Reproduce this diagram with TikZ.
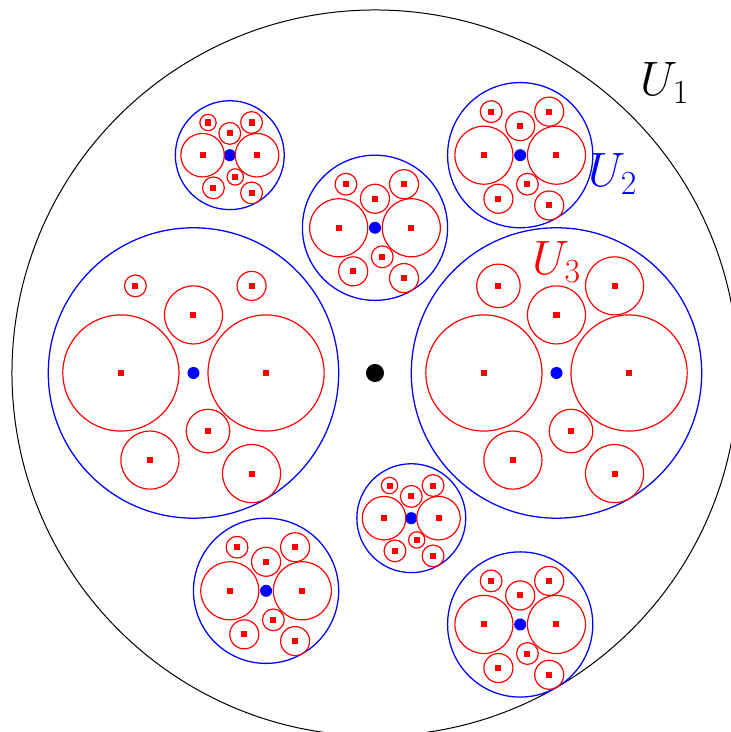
\documentclass[tikz,border=0pt]{standalone}
\usepackage{fix-cm}
\usepackage{amsmath,amssymb}
\usepackage{xcolor}
\usepackage{tikz}
\usetikzlibrary{calc,positioning}

\begin{document}
\begin{tikzpicture}[x=7cm,y=7cm,font=\fontsize{26.5}{30}\selectfont,
  outer/.style={draw=black,line width=0.55pt},
  cell/.style={draw=blue,line width=0.7pt},
  ball/.style={draw=red,line width=0.65pt},
  seed/.style={rectangle,fill=red,inner sep=0pt,minimum size=3.3pt},
  hub/.style={circle,fill=blue,inner sep=0pt,minimum size=6.6pt},
  tag/.style={inner sep=0pt}]
  \useasboundingbox (-1.033,-0.989) rectangle (0.978,1.0275);
  \draw[outer] (0,0) circle[radius=1];
  \node[circle,fill=black,inner sep=0pt,minimum size=9.9pt] (o) at (0,0) {};
  \foreach \cx/\cy/\r/\sa/\sb [count=\i] in {-0.5/0/0.4/0.075/0.1, 0.5/0/0.4/0.15/0.2, 0/0.4/0.2/0.15/0.2, -0.4/0.6/0.15/0.15/0.2, 0.4/0.6/0.2/0.15/0.2, 0.1/-0.4/0.15/0.15/0.2, -0.3/-0.6/0.2/0.15/0.2, 0.4/-0.6928/0.2/0.15/0.2} {
    \draw[cell] (\cx,\cy) circle[radius=\r];
    \node[hub] (h\i) at (\cx,\cy) {};
    \foreach \px/\py/\s [count=\j] in {-0.5/0/0.4, 0.5/0/0.4, 0/0.4/0.2, -0.4/0.6/\sa, 0.4/0.6/\sb, 0.1/-0.4/0.15, -0.3/-0.6/0.2, 0.4/-0.6928/0.2} {
      \draw[ball] ({\cx+\r*\px},{\cy+\r*\py}) circle[radius=\r*\s];
      \node[seed] (s\i-\j) at ({\cx+\r*\px},{\cy+\r*\py}) {};
    }
  }
  \node[tag] (u1) at (0.799,0.799) {$U_1$};
  \node[tag,text=blue] (u2) at (0.656,0.548) {$U_2$};
  \node[tag,text=red] (u3) at (0.501,0.306) {$U_3$};
\end{tikzpicture}
\end{document}
